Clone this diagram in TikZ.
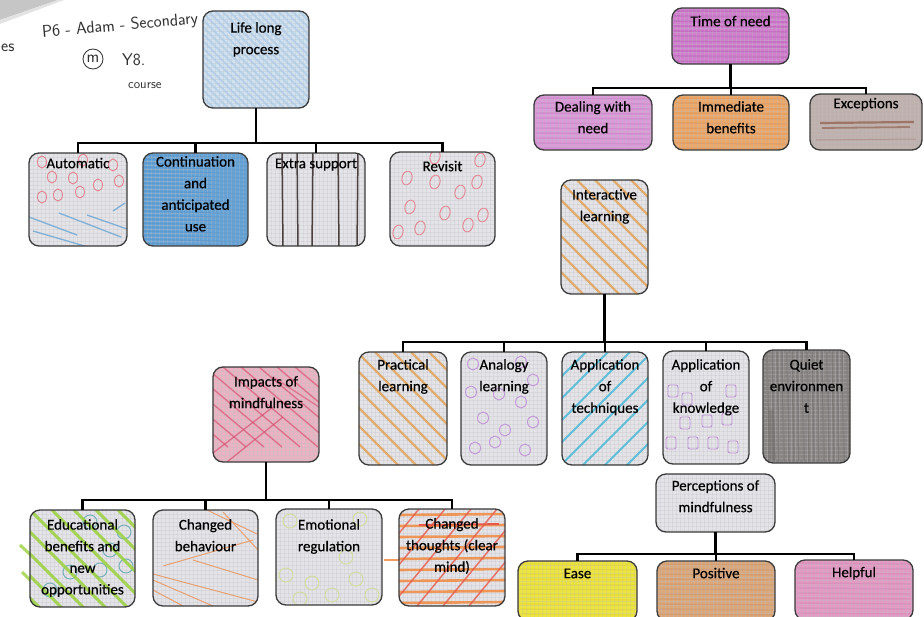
\documentclass[tikz,border=0pt]{standalone}
\usepackage{fontspec}
\setmainfont{Carlito}[FakeBold=0.4]
\usetikzlibrary{calc}

% paper and pencil colours
\definecolor{boxline}{HTML}{3A3A3A}
\definecolor{basegrey}{HTML}{E4E4E8}
\definecolor{gridc}{HTML}{BEBEC6}
\definecolor{lifeblue}{HTML}{D2E2F0}
\definecolor{lifestroke}{HTML}{A9C8E5}
\definecolor{pinkring}{HTML}{E5828E}
\definecolor{paleblue}{HTML}{7FB0D8}
\definecolor{contblue}{HTML}{66A3D6}
\definecolor{contstroke}{HTML}{4F8DC6}
\definecolor{graphite}{HTML}{4A4040}
\definecolor{magenta1}{HTML}{D07ECD}
\definecolor{magenta2}{HTML}{B455B2}
\definecolor{lilac}{HTML}{DB9AD8}
\definecolor{lilacstroke}{HTML}{C674C4}
\definecolor{orange1}{HTML}{EBA868}
\definecolor{orange2}{HTML}{E08A48}
\definecolor{brownish}{HTML}{BFB0AC}
\definecolor{brownstroke}{HTML}{93604F}
\definecolor{ochre}{HTML}{E0A050}
\definecolor{purplering}{HTML}{C393D9}
\definecolor{cyanstroke}{HTML}{3FB6D6}
\definecolor{darkgrey}{HTML}{8A8683}
\definecolor{darkstreak}{HTML}{6C6866}
\definecolor{rosefill}{HTML}{E9B3C1}
\definecolor{redstroke}{HTML}{D8486A}
\definecolor{limegreen}{HTML}{9AD23C}
\definecolor{tealring}{HTML}{6FAEB6}
\definecolor{peach}{HTML}{E8A070}
\definecolor{paleyg}{HTML}{D3DC9C}
\definecolor{hotorange}{HTML}{F08A40}
\definecolor{redorange}{HTML}{E85848}
\definecolor{yellow1}{HTML}{EDE43E}
\definecolor{yellow2}{HTML}{E3D620}
\definecolor{tan1}{HTML}{DBA87B}
\definecolor{tan2}{HTML}{CF8C58}
\definecolor{pink1}{HTML}{E39BC3}
\definecolor{pink2}{HTML}{D47BB0}
\definecolor{ink}{HTML}{303030}

\tikzset{
  box/.style={draw=boxline, line width=1.3pt, rounded corners=10pt,
    anchor=north west, inner sep=0pt, outer sep=0pt},
  lbl/.style={font=\fontsize{15}{21.6}\selectfont, align=center, inner sep=0pt,
    anchor=north, text=black, execute at begin node={\rule{0pt}{12pt}}},
  conn/.style={line width=2.4pt, black},
  gridline/.style={gridc, line width=0.3pt, opacity=0.3},
  ring/.style={line width=0.9pt},
  hand/.style={font=\sffamily\fontsize{17}{20}\selectfont, text=ink, inner sep=0pt},
}

% a pencil-shaded card: name, x, y, width, height, fill colour, shading strokes
\newcommand\card[7]{%
  \begin{scope}[shift={(#2,#3)}]
    \begin{scope}
      \clip[rounded corners=10pt] (0,0) rectangle (#4,#5);
      \fill[#6] (0,0) rectangle (#4,#5);
      \foreach \gx in {0,4,...,#4} \draw[gridline] (\gx,0) -- (\gx,#5);
      \foreach \gy in {0,4,...,#5} \draw[gridline] (0,\gy) -- (#4,\gy);
      #7
    \end{scope}
  \end{scope}
  \node[box, minimum width=#4pt, minimum height=#5pt] (#1) at (#2,#3) {};
}

\begin{document}
\begin{tikzpicture}[x=1pt, y=-1pt]
\useasboundingbox (0,0) rectangle (924,616);
\fill[white] (0,0) rectangle (924,616);

% curled corner of the sheet
\fill[gray!45] (0,0) -- (58,0) -- (0,20) -- cycle;
\fill[gray!22] (58,0) -- (0,20) -- (0,24) -- (64,0) -- cycle;

% handwritten notes
\node[hand, anchor=west, rotate=5] (noteA) at (42,33) {P6 - Adam - Secondary};
\node[hand] (noteM) at (93,59) {m};
\draw[ink, line width=0.8pt] (noteM) circle (10);
\node[hand, anchor=west] (noteY) at (122,60) {Y8.};
\node[hand, font=\sffamily\fontsize{13}{15}\selectfont, anchor=west] (noteC) at (128,86) {course};
\node[hand, anchor=west] (noteE) at (1,48) {es};

% ---------------- Life long process ----------------
\card{life}{203}{11}{106}{97}{lifeblue}{
  \foreach \k in {-100,-93,...,110} \draw[lifestroke, line width=1.8pt, opacity=0.65] (\k,0) -- ++(100,100);
}
\card{auto}{29}{153}{98}{93}{basegrey}{
  \foreach \a/\b in {13/9, 54/7, 84/12, 23/24, 44/25, 69/32, 13/44, 29/42, 51/39, 90/28}{
    \draw[pinkring, ring] (\a,\b) circle [x radius=4.5, y radius=6];}
  \draw[paleblue, line width=1.3pt] (0,64) -- (48,82);
  \draw[paleblue, line width=1.3pt] (4,78) -- (66,96);
  \draw[paleblue, line width=1.3pt] (30,60) -- (92,84);
  \draw[paleblue, line width=1.3pt] (58,62) -- (98,76);
  \draw[paleblue, line width=1.3pt] (84,58) -- (96,50);
}
\card{cont}{143}{153}{105}{93}{contblue}{
  \foreach \k in {2,6,...,94} \draw[contstroke, line width=1.4pt, opacity=0.45] (0,\k) -- (105,\k+3);
}
\card{extra}{267}{153}{98}{93}{basegrey}{
  \foreach \xa/\xb in {15/16, 30/31, 46/45, 71/72, 91/90}{
    \draw[graphite, line width=1.5pt] (\xa,-2) -- (\xb,96);}
}
\card{revisit}{390}{152}{105}{94}{basegrey}{
  \foreach \a/\b in {45/5, 90/8, 17/26, 45/30, 87/30, 70/40, 20/55, 55/61, 93/63, 78/73, 30/76, 8/80}{
    \draw[pinkring, ring, rotate around={-15:(\a,\b)}] (\a,\b) circle [x radius=5, y radius=7];}
}

% ---------------- Time of need ----------------
\card{need}{672}{8}{117}{56}{magenta1}{
  \foreach \k in {3,8,...,56} \draw[magenta2, line width=1.6pt, opacity=0.4] (2,\k) -- (115,\k+1);
}
\card{deal}{534}{95}{118}{55}{lilac}{
  \foreach \k in {3,8,...,55} \draw[lilacstroke, line width=1.4pt, opacity=0.4] (2,\k) -- (116,\k+1);
}
\card{immed}{673}{95}{116}{55}{orange1}{
  \foreach \k in {3,8,...,55} \draw[orange2, line width=1.4pt, opacity=0.4] (2,\k) -- (114,\k+1);
}
\card{excep}{810}{94}{112}{56}{brownish}{
  \draw[brownstroke, line width=2.2pt, opacity=0.75] (10,29) -- (104,28);
  \draw[brownstroke, line width=1.8pt, opacity=0.65] (12,34) -- (100,33);
  \draw[brownstroke, line width=1pt, opacity=0.35] (6,46) -- (106,45);
}

% ---------------- Interactive learning ----------------
\card{inter}{561}{180}{87}{114}{basegrey}{
  \foreach \k in {-110,-92,...,90} \draw[ochre, line width=2.2pt, opacity=0.8] (\k,0) -- ++(115,115);
}
\card{pract}{359}{352}{88}{113}{basegrey}{
  \foreach \k in {-110,-92,...,90} \draw[ochre, line width=2.2pt, opacity=0.8] (\k,0) -- ++(115,115);
}
\card{analog}{461}{352}{86}{113}{basegrey}{
  \foreach \a/\b in {12/12, 60/10, 72/28, 10/40, 38/42, 60/50, 22/66, 72/70, 44/78, 34/90, 14/96, 64/98}{
    \draw[purplering, ring] (\a,\b) circle [x radius=5.5, y radius=6];}
}
\card{tech}{562}{352}{86}{113}{basegrey}{
  \foreach \k in {-20,2,...,190} \draw[cyanstroke, line width=2pt, opacity=0.8] (\k,0) -- ++(-115,115);
}
\card{know}{663}{351}{86}{113}{basegrey}{
  \foreach \a/\b in {10/40, 24/48, 68/40, 22/72, 44/70, 64/68, 8/92, 30/92, 50/92, 70/96}{
    \draw[purplering, ring, rounded corners=2pt] (\a-5,\b-6) rectangle (\a+5,\b+6);}
}
\card{quiet}{763}{350}{87}{113}{darkgrey}{
  \foreach \k in {4,9,...,86} \draw[darkstreak, line width=1.5pt, opacity=0.45] (\k,2) -- (\k+2,111);
  \draw[darkstreak, line width=6pt, opacity=0.4] (8,60) -- (10,110);
}

% ---------------- Impacts of mindfulness ----------------
\card{impact}{213}{367}{106}{95}{rosefill}{
  \foreach \k in {-80,-62,...,100} \draw[redstroke, line width=1.3pt, opacity=0.65] (\k,0) -- ++(95,80);
  \draw[redstroke, line width=1.3pt, opacity=0.65] (0,86) -- (60,40);
  \draw[redstroke, line width=1.3pt, opacity=0.65] (14,95) -- (70,50);
  \draw[redstroke, line width=1.3pt, opacity=0.55] (60,10) -- (106,40);
}
% green strokes running past the left edge of the first card
\draw[limegreen, line width=3pt, opacity=0.8] (20,545) -- (34,558);
\draw[limegreen, line width=3pt, opacity=0.8] (22,572) -- (34,584);
\card{edu}{30}{510}{105}{97}{basegrey}{
  \foreach \a/\b in {60/12, 80/40, 94/22, 40/62, 70/60, 96/56, 20/80}{
    \draw[tealring, ring] (\a,\b) circle [radius=7];}
  \foreach \k in {-110,-88,...,100} \draw[limegreen, line width=3pt, opacity=0.85] (\k,0) -- ++(105,105);
}
\card{behav}{153}{510}{105}{96}{basegrey}{
  \draw[peach, line width=1pt] (0,64) -- (105,92);
  \draw[peach, line width=1pt] (0,70) -- (60,96);
  \draw[peach, line width=1pt] (10,56) -- (100,30);
  \draw[peach, line width=1pt] (40,50) -- (105,70);
  \draw[peach, line width=1pt] (70,2) -- (105,40);
  \draw[peach, line width=1pt] (54,0) -- (104,24);
  \draw[peach, line width=1pt] (0,80) -- (30,96);
}
\card{emot}{276}{509}{106}{96}{basegrey}{
  \foreach \a/\b in {14/12, 84/10, 10/66, 36/74, 56/86, 80/70, 96/86, 24/90, 70/48}{
    \draw[paleyg, ring] (\a,\b) circle [radius=7];}
}
\draw[hotorange, line width=2.5pt, opacity=0.85] (384,560) -- (400,560);
\card{thought}{399}{509}{106}{97}{basegrey}{
  \foreach \k in {6,17,...,96} \draw[hotorange, line width=2.6pt, opacity=0.85] (0,\k) -- (106,\k-1);
  \foreach \k in {20,46,...,160} \draw[redorange, line width=1.5pt, opacity=0.8] (\k,0) -- ++(-80,97);
  \draw[redorange, line width=1.8pt] (20,16) -- (100,15);
}

% ---------------- Perceptions of mindfulness ----------------
\card{percep}{656}{474}{119}{58}{basegrey}{}
\card{ease}{518}{561}{119}{60}{yellow1}{
  \foreach \k in {3,8,...,60} \draw[yellow2, line width=1.4pt, opacity=0.45] (2,\k) -- (117,\k+1);
}
\card{posit}{657}{561}{118}{60}{tan1}{
  \foreach \k in {3,8,...,60} \draw[tan2, line width=1.4pt, opacity=0.4] (2,\k) -- (116,\k+1);
}
\card{helpf}{795}{560}{118}{60}{pink1}{
  \foreach \k in {3,8,...,60} \draw[pink2, line width=1.4pt, opacity=0.4] (2,\k) -- (116,\k+1);
}

% ---------------- labels ----------------
\node[lbl] (lifeT) at (life.north |- 0,22) {Life long\\process};
\node[lbl] (autoT) at (auto.north |- 0,156) {Automatic};
\node[lbl] (contT) at (cont.north |- 0,156) {Continuation\\and\\anticipated\\use};
\node[lbl] (extraT) at (extra.north |- 0,156) {Extra support};
\node[lbl] (revisitT) at (revisit.north |- 0,159) {Revisit};
\node[lbl] (needT) at (need.north |- 0,14) {Time of need};
\node[lbl] (dealT) at (deal.north |- 0,101) {Dealing with\\need};
\node[lbl] (immedT) at (immed.north |- 0,101) {Immediate\\benefits};
\node[lbl] (excepT) at (excep.north |- 0,96) {Exceptions};
\node[lbl] (interT) at (inter.north |- 0,189) {Interactive\\learning};
\node[lbl] (practT) at (pract.north |- 0,359) {Practical\\learning};
\node[lbl] (analogT) at (analog.north |- 0,359) {Analogy\\learning};
\node[lbl] (techT) at (tech.north |- 0,359) {Application\\of\\techniques};
\node[lbl] (knowT) at (know.north |- 0,359) {Application\\of\\knowledge};
\node[lbl] (quietT) at (quiet.north |- 0,359) {Quiet\\environmen\\t};
\node[lbl] (impactT) at (impact.north |- 0,376) {Impacts of\\mindfulness};
\node[lbl] (eduT) at (edu.north |- 0,519) {Educational\\benefits and\\new\\opportunities};
\node[lbl] (behavT) at (behav.north |- 0,519) {Changed\\behaviour};
\node[lbl] (emotT) at (emot.north |- 0,519) {Emotional\\regulation};
\node[lbl] (thoughtT) at (thought.north |- 0,518) {Changed\\thoughts (clear\\mind)};
\node[lbl] (percepT) at (percep.north |- 0,480) {Perceptions of\\mindfulness};
\node[lbl] (easeT) at (ease.north |- 0,566) {Ease};
\node[lbl] (positT) at (posit.north |- 0,566) {Positive};
\node[lbl] (helpfT) at (helpf.north |- 0,565) {Helpful};

% ---------------- connectors ----------------
\coordinate (lifeBar) at (life.south |- 0,143);
\draw[conn] (life.south) -- (lifeBar);
\foreach \c in {auto, cont, extra, revisit} \draw[conn] (\c.north) |- (lifeBar);

\coordinate (needBar) at (need.south |- 0,88);
\draw[conn] (need.south) -- (needBar);
\foreach \c in {deal, immed, excep} \draw[conn] (\c.north) |- (needBar);

\coordinate (interBar) at (inter.south |- 0,342);
\draw[conn] (inter.south) -- (interBar);
\foreach \c in {pract, analog, tech, know, quiet} \draw[conn] (\c.north) |- (interBar);

\coordinate (impactBar) at (impact.south |- 0,500);
\draw[conn] (impact.south) -- (impactBar);
\foreach \c in {edu, behav, emot, thought} \draw[conn] (\c.north) |- (impactBar);

\coordinate (percepBar) at (percep.south |- 0,554);
\draw[conn] (percep.south) -- (percepBar);
\foreach \c in {ease, posit, helpf} \draw[conn] (\c.north) |- (percepBar);

\end{tikzpicture}
\end{document}
